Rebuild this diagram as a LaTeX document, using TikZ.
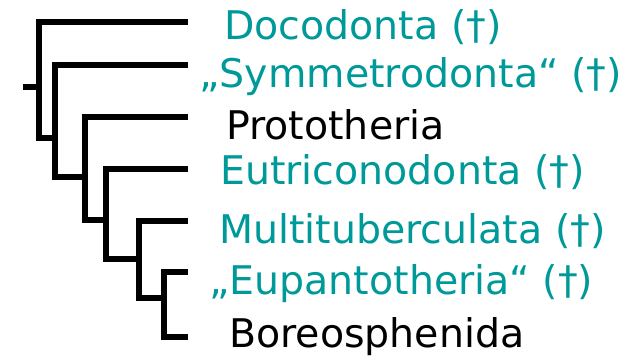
\documentclass[tikz,border=0pt]{standalone}
\usepackage{fontspec}
\setmainfont{DejaVu Sans}
\definecolor{fossil}{RGB}{0,153,153}

\begin{document}
\begin{tikzpicture}[x=0.75pt,y=-0.75pt,
  branch/.style={line width=3.9pt,line join=miter},
  taxon/.style={anchor=base west,inner sep=0pt,font=\fontsize{29.6}{36}\selectfont},
  extinct/.style={taxon,text=fossil},
  living/.style={taxon,text=black}]
  \useasboundingbox (0,0) rectangle (629,363);
  % tips
  \coordinate (t1) at (188,22);
  \coordinate (t2) at (188,65);
  \coordinate (t3) at (188,117);
  \coordinate (t4) at (188,169);
  \coordinate (t5) at (188,221);
  \coordinate (t6) at (188,272);
  \coordinate (t7) at (188,337);
  % inner nodes
  \coordinate (root) at (23,87);
  \coordinate (n1) at (39,87);
  \coordinate (n2) at (55,138);
  \coordinate (n3) at (85,177);
  \coordinate (n4) at (106,220);
  \coordinate (n5) at (139,259);
  \coordinate (n6) at (164,298);
  % branches
  \draw[branch] (root) -- (n1);
  \draw[branch] (n1) |- (t1);
  \draw[branch] (n1) |- (n2);
  \draw[branch] (n2) |- (t2);
  \draw[branch] (n2) |- (n3);
  \draw[branch] (n3) |- (t3);
  \draw[branch] (n3) |- (n4);
  \draw[branch] (n4) |- (t4);
  \draw[branch] (n4) |- (n5);
  \draw[branch] (n5) |- (t5);
  \draw[branch] (n5) |- (n6);
  \draw[branch] (n6) |- (t6);
  \draw[branch] (n6) |- (t7);
  % labels
  \node[extinct] (docodonta) at (224,40) {Docodonta (†)};
  \node[extinct] (symmetrodonta) at (199,88) {„Symmetrodonta“ (†)};
  \node[living] (prototheria) at (226,140) {Prototheria};
  \node[extinct] (eutriconodonta) at (220,185) {Eutriconodonta (†)};
  \node[extinct] (multituberculata) at (219,244) {Multituberculata (†)};
  \node[extinct] (eupantotheria) at (209,295) {„Eupantotheria“ (†)};
  \node[living] (boreosphenida) at (229,348) {Boreosphenida};
\end{tikzpicture}
\end{document}
